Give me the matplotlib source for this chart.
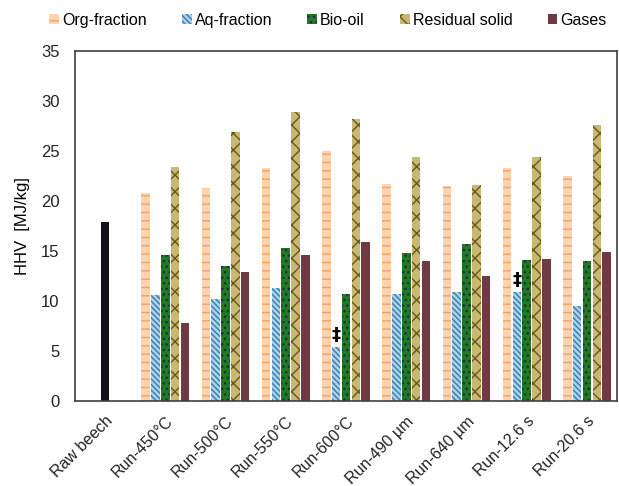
import numpy as np
import matplotlib
matplotlib.use("Agg")
import matplotlib.pyplot as plt

plt.rcParams['font.family'] = ['Liberation Sans', 'DejaVu Sans']
plt.rcParams['hatch.linewidth'] = 1.0

categories = ["Raw beech", "Run-450°C", "Run-500°C", "Run-550°C", "Run-600°C",
              "Run-490 µm", "Run-640 µm", "Run-12.6 s", "Run-20.6 s"]
raw_beech = 17.9

series_names = ["Org-fraction", "Aq-fraction", "Bio-oil", "Residual solid", "Gases"]
org = [20.8, 21.3, 23.3, 25.0, 21.7, 21.5, 23.3, 22.5]
aq = [10.6, 10.2, 11.3, 5.4, 10.7, 10.9, 10.9, 9.5]
bio = [14.6, 13.5, 15.3, 10.7, 14.8, 15.7, 14.1, 14.0]
res = [23.4, 26.9, 28.9, 28.2, 24.4, 21.6, 24.4, 27.6]
gas = [7.8, 12.9, 14.6, 15.9, 14.0, 12.5, 14.2, 14.9]
marked = ["Run-600°C", "Run-12.6 s"]  # Aq-fraction bars with a double dagger

fills = ["#fdd3b0", "#a8d3ea", "#1f7a22", "#c8b870", "#6e3b42"]
hatch_cols = ["#f7a060", "#3a79ad", "#262646", "#6a5420", "#6e3b42"]
hatches = ["--", "\\\\\\\\\\\\", "...", "xx", None]

fig, ax = plt.subplots(figsize=(6.19, 4.86), dpi=100)
fig.subplots_adjust(left=0.121, right=0.997, bottom=0.175, top=0.895)

x = np.arange(len(categories))
xr = x[1:]
pitch = 0.163
width = 0.142

ax.bar(x[0], raw_beech, width=width, color="#131118", linewidth=0, zorder=2)

data = [org, aq, bio, res, gas]
for i, vals in enumerate(data):
    off = (i - 2) * pitch
    ax.bar(xr + off, vals, width=width, color=fills[i], edgecolor=hatch_cols[i],
           linewidth=0, hatch=hatches[i], label=series_names[i], zorder=2)

for name in marked:
    k = categories.index(name) - 1
    ax.text(xr[k] - pitch, aq[k] + 0.3, "‡", ha="center", va="bottom",
            fontsize=13, fontweight="bold", color="black", family="DejaVu Sans")

ax.set_xlim(-0.5, len(categories) - 0.5)
ax.set_ylim(0, 35)
ax.set_yticks(np.arange(0, 36, 5))
ax.set_xticks(x)
ax.set_xticklabels(categories, rotation=45, ha="right", rotation_mode="anchor")
ax.tick_params(axis="both", length=0, labelsize=12, colors="#222222")
ax.tick_params(axis="x", labelsize=11.5, pad=9)
ax.tick_params(axis="y", pad=11)
for s in ax.spines.values():
    s.set_color("#404040")
    s.set_linewidth(1.2)
ax.set_ylabel("HHV  [MJ/kg]", fontsize=12, labelpad=8)

fig.legend(loc="center", bbox_to_anchor=(0.53, 0.958), ncol=5, frameon=False,
           fontsize=11.5, handlelength=0.6, handleheight=0.6, handletextpad=0.2,
           columnspacing=2.2)

fig.savefig("out.png", dpi=100)
